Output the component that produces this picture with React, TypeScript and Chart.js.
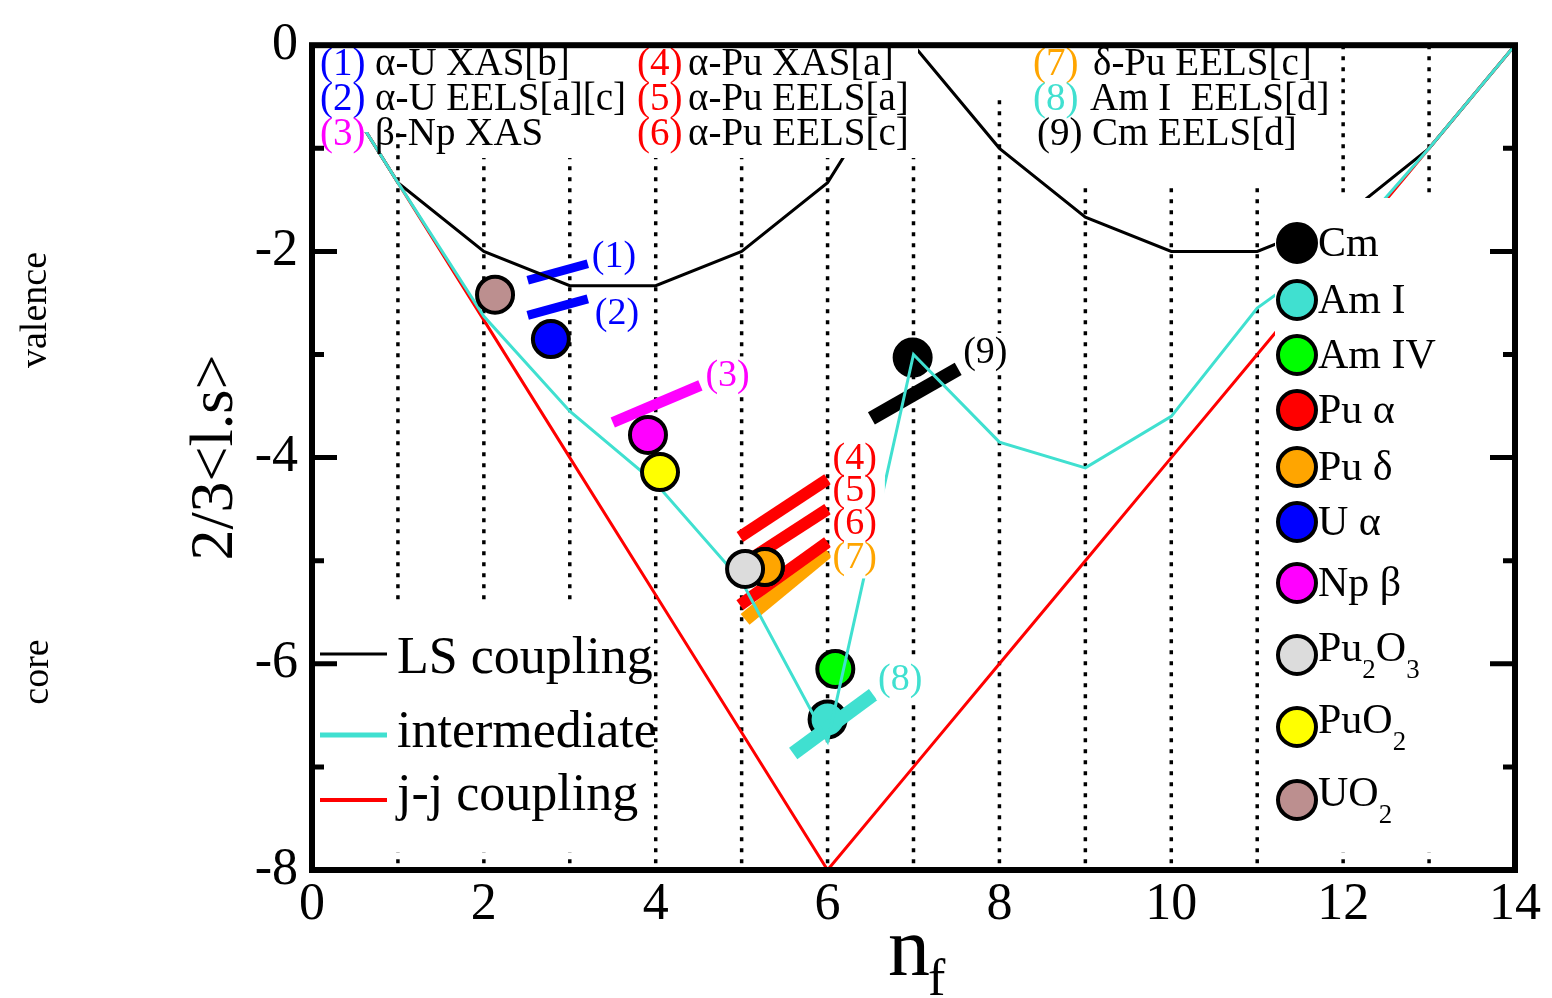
import React, { useEffect, useRef } from 'react';
import { Chart, registerables } from 'chart.js';

Chart.register(...registerables);

// ---- data -------------------------------------------------------------
// f-shell occupation and 2/3<l.s> for the three coupling schemes
const nf = [0, 1, 2, 3, 4, 5, 6, 7, 8, 9, 10, 11, 12, 13, 14];
const lsCoupling = [0, -1.333, -2, -2.333, -2.333, -2, -1.333, 0, -1, -1.667, -2, -2, -1.667, -1, 0];
const intermediateCoupling = [0, -1.333, -2.63, -3.55, -4.25, -5.2, -6.75, -3.0, -3.85, -4.1, -3.6, -2.55, -1.95, -1.0, 0];
const jjCoupling = [0, -1.333, -2.667, -4, -5.333, -6.667, -8, -7, -6, -5, -4, -3, -2, -1, 0];

// dotted guides at integer occupations
const guideN = [1, 2, 3, 4, 5, 6, 7, 8, 9, 10, 11, 12, 13];

// axis ranges and ticks
const xRange = [0, 14];
const yRange = [-8, 0];
const tickStep = 2;
const yMajorTicks = [-2, -4, -6];
const yMinorTicks = [-1, -3, -5, -7];

// experimental ranges (1)-(9)
const rangeTags = ['(1)', '(2)', '(3)', '(4)', '(5)', '(6)', '(7)', '(8)', '(9)'];
const rangeStartN = [2.51, 2.51, 3.5, 4.98, 5.0, 4.98, 5.04, 5.6, 6.51];
const rangeEndN = [3.21, 3.21, 4.52, 6.0, 6.0, 6.0, 6.0, 6.53, 7.52];
const rangeStartValue = [-2.28, -2.62, -3.66, -4.77, -5.04, -5.43, -5.57, -6.87, -3.62];
const rangeEndValue = [-2.12, -2.46, -3.3, -4.21, -4.5, -4.82, -4.91, -6.3, -3.14];

// reference list of the experiments
const noteTags = ['(1)', '(2)', '(3)', '(4)', '(5)', '(6)', '(7)', '(8)', '(9)'];
const noteTexts = [
  'α-U XAS[b]', 'α-U EELS[a][c]', 'β-Np XAS',
  'α-Pu XAS[a]', 'α-Pu EELS[a]', 'α-Pu EELS[c]',
  'δ-Pu EELS[c]', 'Am I  EELS[d]', 'Cm EELS[d]',
];

// measured materials ("_" marks a one-character subscript)
const materialNames = ['Cm', 'Am I', 'Am IV', 'Pu α', 'Pu δ', 'U α', 'Np β', 'Pu_2O_3', 'PuO_2', 'UO_2'];
const materialN = [6.99, 6.0, 6.09, 5.27, 5.27, 2.78, 3.91, 5.04, 4.05, 2.13];
const materialValue = [-3.03, -6.54, -6.05, -5.06, -5.06, -2.85, -3.78, -5.08, -4.14, -2.42];

// coupling-scheme legend
const curveNames = ['LS coupling', 'intermediate', 'j-j coupling'];

// ---- styles & layout ----------------------------------------------------
const SERIF = "'Liberation Serif', 'Times New Roman', Times, serif";
const BLUE = '#0000FF';
const MAGENTA = '#FF00FF';
const RED = '#FF0000';
const ORANGE = '#FFA500';
const TURQ = '#40E0D0';

const curveColors = ['#000000', TURQ, RED];
const curveWidths = [3, 3, 3];
const curveLegendWidths = [3, 5, 4];
const curveLegendLineY = [654, 735, 800];
const curveLegendBaseline = [673, 747, 810];

const rangeColors = [BLUE, BLUE, MAGENTA, RED, RED, RED, ORANGE, TURQ, '#000000'];
const rangeWidths = [9, 9, 11, 12, 12, 12, 14, 14, 14];
const rangeLayer = [80, 80, 80, 80, 80, 80, 80, 60, 80];
// tag placement relative to the upper end of each range
const rangeTagOffset = [[4, -7], [7, 15], [5, -9], [5, -20], [5, -18], [5, -18], [5, 7], [5, -15], [5, -16]];

const noteTagColors = [BLUE, BLUE, MAGENTA, RED, RED, RED, ORANGE, TURQ, '#000000'];
const noteTagX = [320, 320, 320, 637, 637, 637, 1033, 1033, 1037];
const noteTextX = [375, 375, 375, 688, 688, 688, 1093, 1090, 1092];
const noteBaseline = [75, 110, 145, 75, 110, 145, 75, 110, 145];

const materialColors = ['#000000', TURQ, '#00FF00', RED, ORANGE, BLUE, MAGENTA, '#DCDCDC', '#FFFF00', '#BC8F8F'];
const materialLayer = [70, 70, 70, 34, 31, 30, 33, 29, 32, 30];
const legendRowY = [243, 300, 355, 410, 467, 522, 583, 655, 727, 800];

// white panels behind text blocks
const panels = [
  [315, 38, 918, 114],
  [315, 114, 440, 132],
  [440, 114, 918, 158],
  [985, 38, 1338, 100],
  [1030, 100, 1338, 152],
  [1070, 152, 1338, 188],
  [1275, 198, 1508, 852],
  [315, 600, 654, 852],
];

function drawRich(ctx: CanvasRenderingContext2D, text: string, x: number, y: number, size: number) {
  const parts: [string, boolean][] = [];
  let buf = '';
  for (let i = 0; i < text.length; i++) {
    if (text[i] === '_' && i + 1 < text.length) {
      if (buf) parts.push([buf, false]);
      buf = '';
      parts.push([text[i + 1], true]);
      i++;
    } else {
      buf += text[i];
    }
  }
  if (buf) parts.push([buf, false]);
  let cx = x;
  for (const [s, sub] of parts) {
    const fs = sub ? size * 0.64 : size;
    ctx.font = `${fs}px ${SERIF}`;
    ctx.fillText(s, cx, sub ? y + size * 0.4 : y);
    cx += ctx.measureText(s).width;
  }
}

const overlayPlugin = {
  id: 'overlay',
  afterDatasetsDraw(chart: any) {
    const ctx: CanvasRenderingContext2D = chart.ctx;
    const xs = chart.scales.x;
    const ys = chart.scales.y;
    ctx.save();
    ctx.textAlign = 'left';
    ctx.textBaseline = 'alphabetic';

    ctx.fillStyle = '#ffffff';
    for (const [x0, y0, x1, y1] of panels) ctx.fillRect(x0, y0, x1 - x0, y1 - y0);

    // reference list
    noteTags.forEach((tag, i) => {
      ctx.font = `39px ${SERIF}`;
      ctx.fillStyle = noteTagColors[i];
      ctx.fillText(tag, noteTagX[i], noteBaseline[i]);
      ctx.fillStyle = '#000000';
      ctx.fillText(noteTexts[i], noteTextX[i], noteBaseline[i]);
    });

    // tags beside the experimental ranges
    ctx.font = `38px ${SERIF}`;
    const tagPos = rangeTags.map((tag, i) => {
      const px = xs.getPixelForValue(rangeEndN[i]) + rangeTagOffset[i][0];
      const py = ys.getPixelForValue(rangeEndValue[i]) + rangeTagOffset[i][1];
      return [px, py, ctx.measureText(tag).width];
    });
    ctx.fillStyle = '#ffffff';
    tagPos.forEach(([px, py, w]) => ctx.fillRect(px - 2, py - 20, w + 10, 40));
    rangeTags.forEach((tag, i) => {
      const [px, py] = tagPos[i];
      ctx.fillStyle = rangeColors[i];
      ctx.fillText(tag, px, py + 10);
    });

    // materials legend
    materialNames.forEach((name, i) => {
      const cy = legendRowY[i];
      ctx.beginPath();
      ctx.arc(1297, cy, 19, 0, Math.PI * 2);
      ctx.fillStyle = materialColors[i];
      ctx.fill();
      ctx.lineWidth = 4;
      ctx.strokeStyle = '#000000';
      ctx.stroke();
      ctx.fillStyle = '#000000';
      drawRich(ctx, name, 1318, cy + (name.includes('_') ? 6 : 13), 42);
    });

    // coupling-scheme legend
    curveNames.forEach((name, i) => {
      ctx.beginPath();
      ctx.moveTo(320, curveLegendLineY[i]);
      ctx.lineTo(387, curveLegendLineY[i]);
      ctx.lineWidth = curveLegendWidths[i];
      ctx.strokeStyle = curveColors[i];
      ctx.stroke();
      ctx.fillStyle = '#000000';
      ctx.font = `52px ${SERIF}`;
      ctx.fillText(name, 397, curveLegendBaseline[i]);
    });
    ctx.restore();
  },
  afterDraw(chart: any) {
    const ctx: CanvasRenderingContext2D = chart.ctx;
    const { left, right, top, bottom } = chart.chartArea;
    const ys = chart.scales.y;
    ctx.save();
    ctx.strokeStyle = '#000000';
    ctx.lineWidth = 5;
    const tick = (v: number, len: number) => {
      const y = ys.getPixelForValue(v);
      ctx.beginPath();
      ctx.moveTo(left, y);
      ctx.lineTo(left + len, y);
      ctx.moveTo(right, y);
      ctx.lineTo(right - len, y);
      ctx.stroke();
    };
    yMajorTicks.forEach((v) => tick(v, 25));
    yMinorTicks.forEach((v) => tick(v, 12));
    ctx.lineWidth = 6;
    ctx.strokeRect(left, top, right - left, bottom - top);

    ctx.fillStyle = '#000000';
    // y title
    ctx.save();
    ctx.translate(216, (top + bottom) / 2);
    ctx.rotate(-Math.PI / 2);
    ctx.textAlign = 'center';
    ctx.textBaseline = 'middle';
    ctx.font = `62px ${SERIF}`;
    ctx.fillText('2/3<l.s>', 0, 0);
    ctx.restore();
    // side notes
    const side = (text: string, x: number, y: number) => {
      ctx.save();
      ctx.translate(x, y);
      ctx.rotate(-Math.PI / 2);
      ctx.textAlign = 'center';
      ctx.textBaseline = 'middle';
      ctx.font = `38px ${SERIF}`;
      ctx.fillText(text, 0, 0);
      ctx.restore();
    };
    side('valence', 36, 310);
    side('core', 38, 672);
    // x title
    ctx.textAlign = 'left';
    ctx.textBaseline = 'alphabetic';
    ctx.font = `84px ${SERIF}`;
    ctx.fillText('n', 888, 975);
    ctx.font = `52px ${SERIF}`;
    ctx.fillText('f', 928, 995);
    ctx.restore();
  },
};

export default function App() {
  const ref = useRef<HTMLCanvasElement | null>(null);

  useEffect(() => {
    if (!ref.current) return;
    const datasets: any[] = [];

    guideN.forEach((n) => {
      datasets.push({
        data: [{ x: n, y: yRange[1] }, { x: n, y: yRange[0] }],
        showLine: true,
        borderColor: '#000000',
        borderWidth: 3.5,
        borderDash: [4, 7],
        borderCapStyle: 'butt',
        pointRadius: 0,
        order: 90,
      });
    });

    rangeTags.forEach((_, i) => {
      datasets.push({
        data: [
          { x: rangeStartN[i], y: rangeStartValue[i] },
          { x: rangeEndN[i], y: rangeEndValue[i] },
        ],
        showLine: true,
        borderColor: rangeColors[i],
        borderWidth: rangeWidths[i],
        borderCapStyle: 'butt',
        pointRadius: 0,
        order: rangeLayer[i],
      });
    });

    const curves = [lsCoupling, intermediateCoupling, jjCoupling];
    const curveLayer = [50, 40, 45];
    curves.forEach((vals, i) => {
      datasets.push({
        data: nf.map((n, k) => ({ x: n, y: vals[k] })),
        showLine: true,
        borderColor: curveColors[i],
        borderWidth: curveWidths[i],
        tension: 0,
        pointRadius: 0,
        order: curveLayer[i],
      });
    });

    materialNames.forEach((_, i) => {
      datasets.push({
        data: [{ x: materialN[i], y: materialValue[i] }],
        showLine: false,
        pointRadius: 18,
        pointBorderWidth: 4,
        pointBackgroundColor: materialColors[i],
        pointBorderColor: '#000000',
        order: materialLayer[i],
      });
    });

    const chart = new Chart(ref.current, {
      type: 'scatter',
      data: { datasets },
      options: {
        animation: false,
        responsive: false,
        events: [],
        layout: { padding: { left: 0, top: 35, right: 37, bottom: 0 } },
        plugins: { legend: { display: false }, tooltip: { enabled: false } },
        scales: {
          x: {
            type: 'linear',
            min: xRange[0],
            max: xRange[1],
            ticks: { stepSize: tickStep, font: { family: SERIF, size: 52 }, color: '#000000', padding: 4, maxRotation: 0, autoSkip: false },
            grid: { display: false, drawTicks: false },
            border: { display: false },
            afterFit: (s: any) => { s.height = 128; },
          },
          y: {
            type: 'linear',
            min: yRange[0],
            max: yRange[1],
            ticks: { stepSize: tickStep, font: { family: SERIF, size: 52 }, color: '#000000', padding: 14 },
            grid: { display: false, drawTicks: false },
            border: { display: false },
            afterFit: (s: any) => { s.width = 312; },
          },
        },
      } as any,
      plugins: [overlayPlugin],
    });
    return () => chart.destroy();
  }, []);

  return (
    <canvas
      ref={ref}
      width={1552}
      height={998}
      style={{ position: 'absolute', left: 0, top: 0, background: '#ffffff' }}
    />
  );
}
